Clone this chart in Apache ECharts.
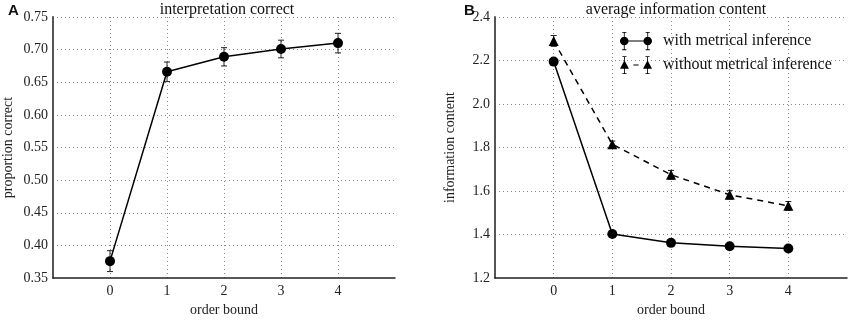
<!DOCTYPE html>
<html>
<head>
<meta charset="utf-8">
<script src="https://cdn.jsdelivr.net/npm/echarts@6/dist/echarts.min.js"></script>
<style>
  html, body { margin: 0; padding: 0; background: #fff; }
  #main { width: 850px; height: 322px; }
</style>
</head>
<body>
<div id="main"></div>
<script>
// order bound (x)
var orderBound = [0, 1, 2, 3, 4];
// panel A: proportion correct
var propCorrect = [0.376, 0.666, 0.689, 0.701, 0.710];
var propErr = [0.016, 0.015, 0.014, 0.0135, 0.015];
// panel B: information content
var withMetrical = [2.195, 1.403, 1.362, 1.346, 1.336];
var withErr = [0.012, 0.010, 0.009, 0.008, 0.009];
var withoutMetrical = [2.290, 1.815, 1.675, 1.583, 1.532];
var withoutErr = [0.025, 0.015, 0.020, 0.020, 0.020];

var serif = '"Liberation Serif", "DejaVu Serif", serif';

function pairs(xs, ys) {
    var out = [];
    for (var i = 0; i < xs.length; i++) out.push([xs[i], ys[i]]);
    return out;
}
function errData(xs, ys, es) {
    var out = [];
    for (var i = 0; i < xs.length; i++) out.push([xs[i], ys[i] - es[i], ys[i] + es[i]]);
    return out;
}
function renderErr(params, api) {
    var lo = api.coord([api.value(0), api.value(1)]);
    var hi = api.coord([api.value(0), api.value(2)]);
    var w = 3;
    var st = { stroke: '#222', lineWidth: 1 };
    return {
        type: 'group',
        children: [
            { type: 'line', shape: { x1: lo[0], y1: lo[1], x2: hi[0], y2: hi[1] }, style: st },
            { type: 'line', shape: { x1: lo[0] - w, y1: lo[1], x2: lo[0] + w, y2: lo[1] }, style: st },
            { type: 'line', shape: { x1: hi[0] - w, y1: hi[1], x2: hi[0] + w, y2: hi[1] }, style: st }
        ]
    };
}

var gridDots = { type: [1, 3], color: '#888', width: 1 };

function xAxisCfg(gi) {
    return {
        type: 'value', gridIndex: gi, min: -1, max: 5, interval: 1,
        name: 'order bound', nameLocation: 'middle', nameGap: 22,
        nameTextStyle: { fontFamily: serif, fontSize: 14, color: '#222' },
        axisLine: { onZero: false, lineStyle: { color: '#222', width: 1.5 } },
        axisTick: { show: false },
        axisLabel: {
            fontFamily: serif, fontSize: 14, color: '#222', margin: 6,
            formatter: function (v) { return (v < 0 || v > 4) ? '' : String(v); }
        },
        splitLine: { show: true, showMinLine: false, showMaxLine: false, lineStyle: gridDots }
    };
}
function yAxisCfg(gi, min, max, step, dec, name) {
    return {
        type: 'value', gridIndex: gi, min: min, max: max, interval: step,
        name: name, nameLocation: 'middle', nameGap: 38,
        nameTextStyle: { fontFamily: serif, fontSize: 14, color: '#222' },
        axisLine: { show: true, onZero: false, lineStyle: { color: '#555', width: 2 } },
        axisTick: { show: false },
        axisLabel: {
            fontFamily: serif, fontSize: 14, color: '#222', margin: 5,
            formatter: function (v) { return v.toFixed(dec); }
        },
        splitLine: { show: true, showMinLine: false, showMaxLine: true, lineStyle: gridDots }
    };
}

var iconWith = 'path://M0,17a8,8 0 1,1 16,0a8,8 0 1,1 -16,0Z M44,17a8,8 0 1,1 16,0a8,8 0 1,1 -16,0Z ' +
    'M15,16h30v2h-30Z M7.2,0h1.6v34h-1.6Z M4,0h8v1.6h-8Z M4,32.4h8v1.6h-8Z ' +
    'M51.2,0h1.6v34h-1.6Z M48,0h8v1.6h-8Z M48,32.4h8v1.6h-8Z';
var iconWithout = 'path://M8,8L16.5,24L-0.5,24Z M52,8L60.5,24L43.5,24Z ' +
    'M25,16h10v2h-10Z M7.2,0h1.6v34h-1.6Z M4,0h8v1.6h-8Z M4,32.4h8v1.6h-8Z ' +
    'M51.2,0h1.6v34h-1.6Z M48,0h8v1.6h-8Z M48,32.4h8v1.6h-8Z';

var myChart = echarts.init(document.getElementById('main'), null, { renderer: 'canvas' });
var option = {
    backgroundColor: '#fff',
    animation: false,
    title: [
        { text: 'interpretation correct', left: 222, top: -3, textAlign: 'center',
          textStyle: { fontFamily: serif, fontSize: 16, fontWeight: 'normal', color: '#111' } },
        { text: 'average information content', left: 671, top: -3, textAlign: 'center',
          textStyle: { fontFamily: serif, fontSize: 16, fontWeight: 'normal', color: '#111' } },
        { text: 'A', left: 3, top: -2,
          textStyle: { fontFamily: 'Liberation Sans, Arial, sans-serif', fontSize: 15, fontWeight: 'bold', color: '#111' } },
        { text: 'B', left: 459, top: -2,
          textStyle: { fontFamily: 'Liberation Sans, Arial, sans-serif', fontSize: 15, fontWeight: 'bold', color: '#111' } }
    ],
    legend: {
        left: 615, top: 27, orient: 'vertical', itemGap: 6,
        itemWidth: 32, itemHeight: 19,
        textStyle: { fontFamily: serif, fontSize: 16, color: '#111', padding: [0, 0, 0, 6] },
        data: [
            { name: 'with metrical inference', icon: iconWith, itemStyle: { color: '#000' } },
            { name: 'without metrical inference', icon: iconWithout, itemStyle: { color: '#000' } }
        ]
    },
    grid: [
        { left: 50, right: 455, top: 17, bottom: 33 },
        { left: 495, right: 3, top: 17, bottom: 33 }
    ],
    xAxis: [xAxisCfg(0), xAxisCfg(1)],
    yAxis: [
        yAxisCfg(0, 0.35, 0.75, 0.05, 2, 'proportion correct'),
        yAxisCfg(1, 1.2, 2.4, 0.2, 1, 'information content')
    ],
    series: [
        {
            name: 'proportion correct', type: 'line', xAxisIndex: 0, yAxisIndex: 0,
            data: pairs(orderBound, propCorrect),
            symbol: 'circle', symbolSize: 10,
            lineStyle: { color: '#000', width: 1.5 }, itemStyle: { color: '#000' }
        },
        {
            type: 'custom', xAxisIndex: 0, yAxisIndex: 0,
            data: errData(orderBound, propCorrect, propErr), renderItem: renderErr, z: 3
        },
        {
            name: 'with metrical inference', type: 'line', xAxisIndex: 1, yAxisIndex: 1,
            data: pairs(orderBound, withMetrical),
            symbol: 'circle', symbolSize: 10,
            lineStyle: { color: '#000', width: 1.5 }, itemStyle: { color: '#000' }
        },
        {
            type: 'custom', xAxisIndex: 1, yAxisIndex: 1,
            data: errData(orderBound, withMetrical, withErr), renderItem: renderErr, z: 3
        },
        {
            name: 'without metrical inference', type: 'line', xAxisIndex: 1, yAxisIndex: 1,
            data: pairs(orderBound, withoutMetrical),
            symbol: 'triangle', symbolSize: 10,
            lineStyle: { color: '#000', width: 1.5, type: [6, 5] }, itemStyle: { color: '#000' }
        },
        {
            type: 'custom', xAxisIndex: 1, yAxisIndex: 1,
            data: errData(orderBound, withoutMetrical, withoutErr), renderItem: renderErr, z: 3
        }
    ]
};
myChart.setOption(option);
</script>
</body>
</html>
